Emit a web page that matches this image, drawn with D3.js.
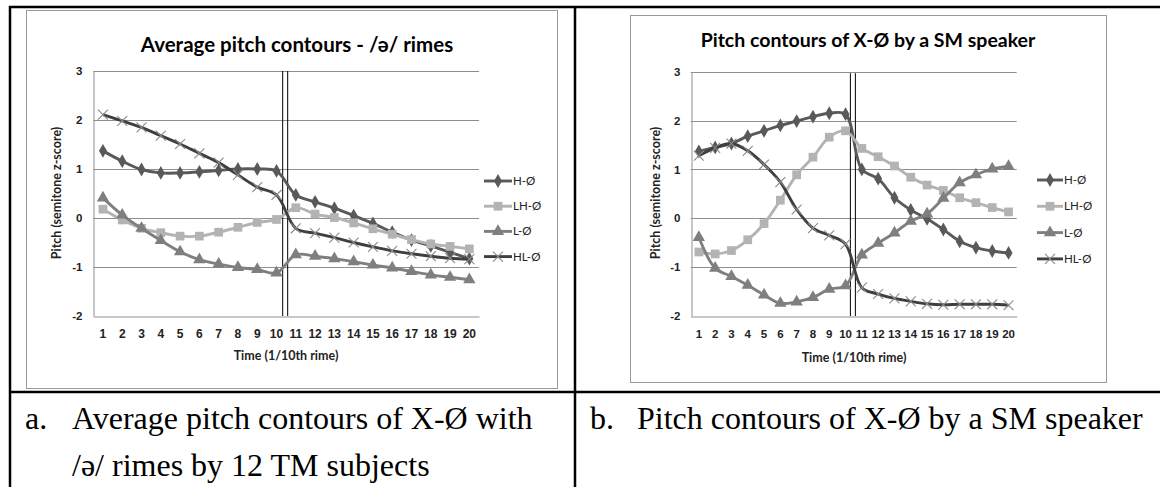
<!DOCTYPE html>
<html>
<head>
<meta charset="utf-8">
<script src="https://cdn.jsdelivr.net/npm/d3@7"></script>
<style>
  html, body { margin: 0; padding: 0; background: #fff; }
  svg { display: block; }
  .chart-text { font-family: Lato, "Noto Sans", sans-serif; }
  .caption { font-family: "Liberation Serif", "Times New Roman", serif; fill: #000; }
</style>
</head>
<body>
<script>
// Time points (tenths of the rime, two syllables)
const timeSteps = [1, 2, 3, 4, 5, 6, 7, 8, 9, 10, 11, 12, 13, 14, 15, 16, 17, 18, 19, 20];
const toneNames = ["H-Ø", "LH-Ø", "L-Ø", "HL-Ø"];
const pitchTicks = [-2, -1, 0, 1, 2, 3];

// Average contours, /ə/ rimes, 12 TM subjects (semitone z-score)
const avgH  = [1.37, 1.16, 0.99, 0.92, 0.92, 0.94, 0.97, 1.00, 1.00, 0.96, 0.47, 0.33, 0.20, 0.05, -0.11, -0.29, -0.45, -0.57, -0.70, -0.83];
const avgLH = [0.18, -0.04, -0.21, -0.30, -0.37, -0.37, -0.29, -0.19, -0.09, -0.03, 0.21, 0.08, 0.01, -0.10, -0.22, -0.33, -0.44, -0.53, -0.58, -0.63];
const avgL  = [0.41, 0.06, -0.21, -0.46, -0.69, -0.85, -0.94, -1.01, -1.05, -1.12, -0.75, -0.78, -0.83, -0.89, -0.96, -1.02, -1.09, -1.16, -1.21, -1.26];
const avgHL = [2.11, 1.98, 1.85, 1.68, 1.51, 1.32, 1.13, 0.88, 0.63, 0.47, -0.21, -0.31, -0.40, -0.50, -0.59, -0.67, -0.73, -0.78, -0.82, -0.84];

// Contours of one SM speaker (semitone z-score)
const smH  = [1.37, 1.45, 1.53, 1.68, 1.79, 1.90, 1.99, 2.08, 2.15, 2.13, 1.00, 0.81, 0.42, 0.17, -0.01, -0.23, -0.47, -0.60, -0.67, -0.71];
const smLH = [-0.69, -0.73, -0.66, -0.44, -0.11, 0.37, 0.89, 1.25, 1.66, 1.79, 1.43, 1.26, 1.07, 0.84, 0.68, 0.57, 0.42, 0.32, 0.22, 0.13];
const smL  = [-0.39, -1.02, -1.19, -1.37, -1.57, -1.74, -1.71, -1.62, -1.45, -1.38, -0.75, -0.51, -0.30, -0.06, 0.09, 0.41, 0.73, 0.89, 1.01, 1.06];
const smHL = [1.28, 1.44, 1.53, 1.38, 1.10, 0.74, 0.18, -0.20, -0.35, -0.53, -1.42, -1.55, -1.64, -1.70, -1.75, -1.77, -1.76, -1.76, -1.76, -1.78];

// Visual style for each tone
const toneStyles = [
  { line: "#595959", marker: d3.symbolDiamond, size: 55, fill: "#595959", stroke: "none" },
  { line: "#b3b3b3", marker: d3.symbolSquare, size: 76, fill: "#b3b3b3", stroke: "none" },
  { line: "#7f7f7f", marker: d3.symbolTriangle, size: 66, fill: "#7f7f7f", stroke: "none" },
  { line: "#3f3f3f", marker: d3.symbolX, size: 66, fill: "none", stroke: "#8a8a8a" }
];

const W = 1160, H = 487;
const svg = d3.select("body").append("svg").attr("width", W).attr("height", H);
svg.append("rect").attr("width", W).attr("height", H).attr("fill", "#fff");

const tickText = d => (d < 0 ? "-" + Math.abs(d) : String(d));

function drawChart(spec) {
  const g = svg.append("g").attr("class", "chart-text");

  // chart frame
  g.append("rect")
    .attr("x", spec.frame[0]).attr("y", spec.frame[1])
    .attr("width", spec.frame[2]).attr("height", spec.frame[3])
    .attr("fill", "#fff").attr("stroke", "#9a9a9a").attr("stroke-width", 1);

  const x = d3.scaleBand().domain(timeSteps).range([spec.plot.l, spec.plot.r]);
  const cx = t => x(t) + x.bandwidth() / 2;
  const y = d3.scaleLinear().domain([-2, 3]).range([spec.plot.b, spec.plot.t]);

  // horizontal gridlines
  g.append("g").selectAll("line").data(pitchTicks.filter(v => v > -2)).join("line")
    .attr("x1", spec.plot.l).attr("x2", spec.plot.r)
    .attr("y1", d => Math.round(y(d)) + 0.5).attr("y2", d => Math.round(y(d)) + 0.5)
    .attr("stroke", "#8f8f8f").attr("stroke-width", 1);

  // y axis
  const yAxis = g.append("g")
    .attr("transform", `translate(${Math.round(spec.plot.l) + 0.5},0)`)
    .call(d3.axisLeft(y).tickValues(pitchTicks).tickFormat(tickText).tickSize(0).tickPadding(11));
  yAxis.select(".domain").attr("stroke", "#8f8f8f");
  yAxis.selectAll("text").attr("font-size", 11.5).attr("font-weight", 700).attr("fill", "#222");

  // x axis
  const xAxis = g.append("g")
    .attr("transform", `translate(0,${Math.round(spec.plot.b) + 0.5})`)
    .call(d3.axisBottom(x).tickSize(0).tickPadding(13));
  xAxis.select(".domain").attr("stroke", "#8f8f8f");
  xAxis.selectAll("text").attr("font-size", spec.xTickSize).attr("font-weight", 700).attr("fill", "#222");

  // syllable boundary (double rule between the two halves)
  const bx = x(10) + x.bandwidth() * 0.95;
  [-2.5, 2.5].forEach(dx => {
    g.append("line")
      .attr("x1", bx + dx).attr("x2", bx + dx)
      .attr("y1", spec.plot.t + spec.ruleTop).attr("y2", spec.plot.b)
      .attr("stroke", "#000").attr("stroke-width", 1);
  });

  // series
  const line = d3.line().x((d, i) => cx(timeSteps[i])).y(d => y(d))
    .curve(d3.curveCatmullRom.alpha(0.5));
  spec.values.forEach((vals, k) => {
    const st = toneStyles[k];
    g.append("path").datum(vals)
      .attr("d", line).attr("fill", "none")
      .attr("stroke", st.line).attr("stroke-width", 2.9)
      .attr("stroke-linejoin", "round");
    g.append("g").selectAll("path").data(vals).join("path")
      .attr("transform", (d, i) => `translate(${cx(timeSteps[i])},${y(d)})`)
      .attr("d", d3.symbol(st.marker, st.size))
      .attr("fill", st.fill).attr("stroke", st.stroke).attr("stroke-width", 1.1);
  });

  // title
  g.append("text").attr("x", spec.title.x).attr("y", spec.title.y)
    .attr("text-anchor", "middle").attr("font-size", spec.title.size).attr("font-weight", 700)
    .attr("fill", "#000").text(spec.title.text);

  // axis titles
  g.append("text").attr("x", spec.xTitle.x).attr("y", spec.xTitle.y)
    .attr("text-anchor", "middle").attr("font-size", 12.5).attr("font-weight", 700)
    .attr("fill", "#222").text("Time (1/10th rime)");
  g.append("text")
    .attr("transform", `translate(${spec.yTitle.x},${spec.yTitle.y}) rotate(-90)`)
    .attr("text-anchor", "middle").attr("dy", "0.35em")
    .attr("font-size", 12.5).attr("font-weight", 700)
    .attr("fill", "#222").text("Pitch (semitone z-score)");

  // legend
  toneNames.forEach((name, k) => {
    const st = toneStyles[k];
    const ly = spec.legend.y0 + k * spec.legend.dy;
    const lg = g.append("g");
    lg.append("line").attr("x1", spec.legend.x).attr("x2", spec.legend.x + spec.legend.len)
      .attr("y1", ly).attr("y2", ly).attr("stroke", st.line).attr("stroke-width", 2.9);
    lg.append("path")
      .attr("transform", `translate(${spec.legend.x + spec.legend.len / 2},${ly})`)
      .attr("d", d3.symbol(st.marker, st.size))
      .attr("fill", st.fill).attr("stroke", st.stroke).attr("stroke-width", 1.1);
    lg.append("text").attr("x", spec.legend.x + spec.legend.len + 1).attr("y", ly)
      .attr("dy", "0.35em").attr("font-size", 11.5).attr("fill", "#222").text(name);
  });
}

// enclosing table rules
const rules = svg.append("g").attr("stroke", "#000").attr("stroke-width", 2.5);
rules.append("line").attr("x1", 10).attr("x2", 10).attr("y1", 6).attr("y2", H);
rules.append("line").attr("x1", 9).attr("x2", W).attr("y1", 7).attr("y2", 7);
rules.append("line").attr("x1", 575).attr("x2", 575).attr("y1", 6).attr("y2", H);
rules.append("line").attr("x1", 9).attr("x2", W).attr("y1", 392).attr("y2", 392);

drawChart({
  frame: [26.5, 10.5, 531, 378],
  plot: { l: 93.3, r: 479, t: 71, b: 316 },
  ruleTop: 0,
  xTickSize: 12,
  title: { x: 297, y: 52, size: 20.5, text: "Average pitch contours - /ə/ rimes" },
  xTitle: { x: 286, y: 360 },
  yTitle: { x: 57, y: 193 },
  legend: { x: 484, len: 28, y0: 181, dy: 25.2 },
  values: [avgH, avgLH, avgL, avgHL]
});

drawChart({
  frame: [630.5, 15.5, 476, 367],
  plot: { l: 690.7, r: 1016.7, t: 71.7, b: 316 },
  ruleTop: 1.5,
  xTickSize: 11.5,
  title: { x: 868, y: 47, size: 19.5, text: "Pitch contours of X-Ø by a SM speaker" },
  xTitle: { x: 854, y: 362 },
  yTitle: { x: 656, y: 193 },
  legend: { x: 1037, len: 26, y0: 180, dy: 26.3 },
  values: [smH, smLH, smL, smHL]
});

// captions
const cap = svg.append("g").attr("class", "caption").attr("font-size", 32);
cap.append("text").attr("x", 25).attr("y", 429).text("a.");
cap.append("text").attr("x", 72).attr("y", 429).text("Average pitch contours of X-Ø with");
cap.append("text").attr("x", 72).attr("y", 476).text("/ə/ rimes by 12 TM subjects");
cap.append("text").attr("x", 590).attr("y", 429).text("b.");
cap.append("text").attr("x", 637).attr("y", 429).text("Pitch contours of X-Ø by a SM speaker");
</script>
</body>
</html>
